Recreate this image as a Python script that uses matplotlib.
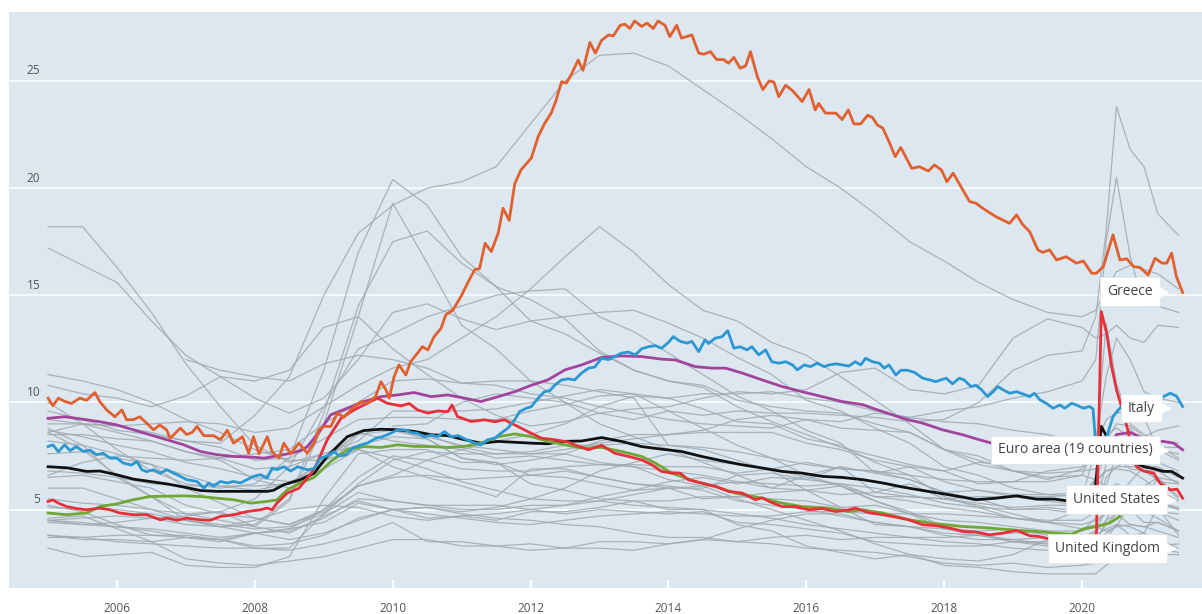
import numpy as np
import matplotlib
matplotlib.use("Agg")
import matplotlib.pyplot as plt
from matplotlib import transforms

plt.rcParams['font.family'] = ['Open Sans', 'DejaVu Sans']

# ---------------- highlighted series (year, unemployment rate %) ----------------
greece_year = [2005.00, 2005.07, 2005.15, 2005.24, 2005.34, 2005.46, 2005.56, 2005.68, 2005.75, 2005.85,
               2005.97, 2006.07, 2006.14, 2006.24, 2006.33, 2006.43, 2006.53, 2006.62, 2006.72, 2006.77,
               2006.92, 2007.01, 2007.09, 2007.16, 2007.26, 2007.40, 2007.50, 2007.60, 2007.69, 2007.82,
               2007.91, 2007.98, 2008.06, 2008.18, 2008.25, 2008.35, 2008.42, 2008.52, 2008.64, 2008.76,
               2008.86, 2008.93, 2009.00, 2009.10, 2009.20, 2009.29, 2009.39, 2009.54, 2009.63, 2009.75,
               2009.83, 2009.90, 2009.95, 2010.02, 2010.09, 2010.19, 2010.26, 2010.36, 2010.43, 2010.51,
               2010.60, 2010.70, 2010.77, 2010.87, 2010.99, 2011.11, 2011.19, 2011.26, 2011.34, 2011.43,
               2011.53, 2011.60, 2011.69, 2011.77, 2011.86, 2012.01, 2012.11, 2012.20, 2012.30, 2012.37,
               2012.45, 2012.52, 2012.59, 2012.69, 2012.76, 2012.86, 2012.94, 2013.03, 2013.13, 2013.20,
               2013.30, 2013.37, 2013.44, 2013.51, 2013.61, 2013.69, 2013.78, 2013.85, 2013.95, 2014.02,
               2014.12, 2014.19, 2014.34, 2014.44, 2014.51, 2014.61, 2014.70, 2014.80, 2014.87, 2014.95,
               2015.04, 2015.12, 2015.19, 2015.29, 2015.37, 2015.46, 2015.53, 2015.60, 2015.70, 2015.80,
               2015.94, 2016.04, 2016.13, 2016.18, 2016.28, 2016.43, 2016.52, 2016.61, 2016.69, 2016.79,
               2016.89, 2016.96, 2017.03, 2017.11, 2017.20, 2017.29, 2017.37, 2017.44, 2017.53, 2017.64,
               2017.77, 2017.86, 2017.96, 2018.04, 2018.13, 2018.22, 2018.37, 2018.46, 2018.56, 2018.75,
               2018.95, 2019.05, 2019.14, 2019.24, 2019.36, 2019.43, 2019.53, 2019.63, 2019.77, 2019.92,
               2020.02, 2020.14, 2020.21, 2020.31, 2020.45, 2020.55, 2020.65, 2020.75, 2020.84, 2020.96,
               2021.06, 2021.16, 2021.23, 2021.30, 2021.37, 2021.46]
greece_rate = [10.2, 9.85, 10.2, 10.05, 9.95, 10.2, 10.1, 10.46, 10.04, 9.65,
               9.33, 9.65, 9.19, 9.2, 9.33, 9.03, 8.72, 8.95, 8.72, 8.33,
               8.8, 8.5, 8.6, 8.88, 8.45, 8.45, 8.26, 8.7, 8.1, 8.4,
               7.63, 8.4, 7.6, 8.4, 7.7, 7.4, 8.1, 7.6, 8.1, 7.63,
               8.1, 8.72, 8.88, 8.88, 9.5, 9.3, 9.65, 10.04, 9.95, 10.27,
               10.97, 10.6, 10.2, 11.2, 11.75, 11.28, 11.9, 12.3, 12.6, 12.45,
               13.07, 13.45, 14.09, 14.3, 14.94, 15.72, 16.2, 16.25, 17.43, 17.04,
               17.9, 19.06, 18.5, 20.2, 20.85, 21.4, 22.4, 23.0, 23.5, 24.1,
               24.97, 24.9, 25.3, 25.98, 25.5, 26.8, 26.3, 26.9, 27.15, 27.1,
               27.6, 27.65, 27.45, 27.8, 27.55, 27.7, 27.45, 27.8, 27.6, 27.07,
               27.6, 27.0, 27.15, 26.3, 26.25, 26.37, 26.0, 26.0, 25.83, 26.1,
               25.6, 25.7, 26.37, 25.2, 24.6, 25.0, 24.95, 24.27, 24.8, 24.55,
               24.04, 24.6, 23.65, 23.95, 23.5, 23.5, 23.2, 23.65, 23.0, 23.0,
               23.4, 23.3, 22.95, 22.8, 22.17, 21.47, 21.9, 21.47, 20.92, 21.0,
               20.8, 21.08, 20.85, 20.3, 20.7, 20.2, 19.37, 19.3, 19.06, 18.67,
               18.36, 18.75, 18.3, 17.97, 17.12, 17.0, 17.12, 16.65, 16.8, 16.5,
               16.6, 16.03, 16.03, 16.34, 17.82, 16.65, 16.7, 16.34, 16.3, 15.95,
               16.73, 16.5, 16.5, 16.97, 15.87, 15.13]

italy_year = [2005.00, 2005.07, 2005.15, 2005.24, 2005.32, 2005.41, 2005.51, 2005.61, 2005.70, 2005.80,
              2005.90, 2006.00, 2006.09, 2006.21, 2006.29, 2006.36, 2006.43, 2006.53, 2006.63, 2006.72,
              2006.82, 2006.92, 2007.01, 2007.16, 2007.26, 2007.33, 2007.40, 2007.50, 2007.60, 2007.69,
              2007.79, 2007.89, 2007.98, 2008.08, 2008.18, 2008.25, 2008.32, 2008.42, 2008.52, 2008.62,
              2008.76, 2008.86, 2008.95, 2009.05, 2009.15, 2009.22, 2009.32, 2009.42, 2009.54, 2009.63,
              2009.76, 2009.85, 2009.97, 2010.07, 2010.17, 2010.26, 2010.36, 2010.46, 2010.56, 2010.65,
              2010.75, 2010.85, 2010.95, 2011.07, 2011.19, 2011.28, 2011.38, 2011.48, 2011.57, 2011.67,
              2011.77, 2011.84, 2011.94, 2012.01, 2012.11, 2012.20, 2012.28, 2012.35, 2012.45, 2012.55,
              2012.64, 2012.74, 2012.84, 2012.93, 2013.03, 2013.13, 2013.22, 2013.32, 2013.42, 2013.52,
              2013.61, 2013.71, 2013.81, 2013.90, 2014.00, 2014.07, 2014.17, 2014.27, 2014.34, 2014.44,
              2014.53, 2014.58, 2014.68, 2014.78, 2014.86, 2014.95, 2015.04, 2015.14, 2015.21, 2015.31,
              2015.41, 2015.50, 2015.60, 2015.70, 2015.80, 2015.87, 2015.97, 2016.06, 2016.16, 2016.26,
              2016.33, 2016.43, 2016.52, 2016.62, 2016.71, 2016.79, 2016.86, 2016.96, 2017.06, 2017.13,
              2017.20, 2017.30, 2017.37, 2017.47, 2017.57, 2017.69, 2017.79, 2017.88, 2017.95, 2018.03,
              2018.12, 2018.22, 2018.29, 2018.39, 2018.46, 2018.54, 2018.63, 2018.71, 2018.78, 2018.85,
              2018.95, 2019.05, 2019.14, 2019.24, 2019.31, 2019.39, 2019.48, 2019.58, 2019.68, 2019.75,
              2019.85, 2019.92, 2020.02, 2020.11, 2020.16, 2020.21, 2020.28, 2020.36, 2020.45, 2020.54,
              2020.62, 2020.70, 2020.80, 2020.90, 2021.00, 2021.10, 2021.18, 2021.28, 2021.37, 2021.46]
italy_rate = [7.94, 8.02, 7.7, 8.02, 7.75, 7.94, 7.71, 7.78, 7.56, 7.63,
              7.4, 7.4, 7.17, 7.08, 7.24, 6.86, 6.77, 6.86, 6.7, 6.86,
              6.7, 6.55, 6.4, 6.31, 6.0, 6.24, 6.1, 6.31, 6.24, 6.31,
              6.24, 6.4, 6.55, 6.63, 6.47, 6.94, 6.86, 7.0, 6.8, 7.0,
              6.86, 6.9, 7.4, 7.5, 7.71, 7.5, 7.55, 7.87, 8.02, 8.1,
              8.33, 8.4, 8.56, 8.72, 8.72, 8.6, 8.56, 8.4, 8.48, 8.4,
              8.64, 8.4, 8.45, 8.26, 8.1, 8.02, 8.26, 8.33, 8.56, 8.8,
              9.19, 9.57, 9.73, 9.8, 10.2, 10.5, 10.55, 10.8, 11.05, 11.1,
              11.05, 11.37, 11.6, 11.65, 12.06, 12.0, 12.14, 12.3, 12.35, 12.22,
              12.5, 12.6, 12.65, 12.53, 12.8, 13.07, 12.85, 12.77, 12.85, 12.37,
              12.92, 12.75, 13.0, 13.07, 13.35, 12.53, 12.6, 12.45, 12.6, 12.22,
              12.45, 11.9, 11.83, 11.9, 11.75, 11.52, 11.75, 11.67, 11.83, 11.67,
              11.75, 11.8, 11.75, 11.7, 11.9, 11.75, 12.06, 11.9, 11.83, 11.6,
              11.75, 11.28, 11.5, 11.5, 11.4, 11.13, 11.05, 10.97, 11.05, 11.13,
              10.87, 11.13, 11.05, 10.74, 10.8, 10.6, 10.27, 10.5, 10.74, 10.6,
              10.43, 10.5, 10.4, 10.27, 10.43, 10.12, 9.96, 9.73, 9.88, 9.73,
              9.96, 9.88, 9.73, 9.81, 9.7, 7.6, 8.0, 8.4, 9.34, 9.7,
              9.9, 9.8, 9.9, 9.6, 9.3, 10.1, 10.27, 10.43, 10.3, 9.81]

euro_year = [2005.00, 2005.24, 2005.56, 2005.75, 2006.00, 2006.24, 2006.48, 2006.72, 2006.97, 2007.21,
             2007.45, 2007.69, 2007.94, 2008.13, 2008.32, 2008.52, 2008.66, 2008.76, 2008.93, 2009.10,
             2009.34, 2009.58, 2009.83, 2010.07, 2010.31, 2010.56, 2010.80, 2011.04, 2011.28, 2011.53,
             2011.77, 2012.01, 2012.25, 2012.50, 2012.74, 2013.03, 2013.32, 2013.61, 2013.90, 2014.10,
             2014.39, 2014.63, 2014.83, 2015.07, 2015.36, 2015.65, 2015.94, 2016.23, 2016.52, 2016.81,
             2017.11, 2017.40, 2017.69, 2017.98, 2018.27, 2018.51, 2018.80, 2019.10, 2019.40, 2019.70,
             2020.00, 2020.20, 2020.35, 2020.50, 2020.70, 2020.90, 2021.05, 2021.18, 2021.33, 2021.46]
euro_rate = [9.26, 9.33, 9.19, 9.1, 8.95, 8.72, 8.49, 8.26, 8.02, 7.71,
             7.56, 7.48, 7.45, 7.4, 7.5, 7.63, 7.75, 7.94, 8.6, 9.42,
             9.73, 10.04, 10.27, 10.35, 10.46, 10.27, 10.35, 10.2, 10.04, 10.27,
             10.5, 10.8, 11.05, 11.52, 11.75, 12.1, 12.17, 12.14, 12.02, 11.98,
             11.67, 11.6, 11.6, 11.37, 11.05, 10.74, 10.5, 10.27, 10.04, 9.9,
             9.57, 9.26, 9.03, 8.72, 8.49, 8.26, 8.0, 7.8, 7.6, 7.5,
             7.4, 7.3, 7.6, 8.5, 8.6, 8.3, 8.2, 8.18, 8.1, 7.79]

oecd_year = [2005.00, 2005.27, 2005.56, 2005.75, 2006.00, 2006.24, 2006.48, 2006.72, 2006.97, 2007.21,
             2007.45, 2007.79, 2008.18, 2008.27, 2008.42, 2008.66, 2008.86, 2009.05, 2009.34, 2009.58,
             2009.83, 2010.07, 2010.31, 2010.56, 2010.80, 2011.04, 2011.28, 2011.53, 2011.77, 2012.01,
             2012.25, 2012.45, 2012.74, 2013.03, 2013.32, 2013.61, 2013.90, 2014.19, 2014.48, 2014.77,
             2015.07, 2015.36, 2015.65, 2015.94, 2016.23, 2016.52, 2016.81, 2017.11, 2017.40, 2017.69,
             2017.98, 2018.27, 2018.46, 2018.75, 2019.05, 2019.34, 2019.60, 2019.80, 2020.00, 2020.18,
             2020.28, 2020.36, 2020.45, 2020.60, 2020.75, 2020.90, 2021.05, 2021.18, 2021.30, 2021.46]
oecd_rate = [7.0, 6.95, 6.78, 6.8, 6.62, 6.42, 6.31, 6.2, 6.05, 5.89,
             5.85, 5.85, 5.85, 5.9, 6.16, 6.39, 6.7, 7.48, 8.4, 8.69,
             8.75, 8.72, 8.65, 8.49, 8.45, 8.26, 8.1, 8.18, 8.14, 8.1,
             8.07, 8.18, 8.2, 8.36, 8.18, 7.94, 7.82, 7.71, 7.48, 7.28,
             7.09, 6.94, 6.78, 6.7, 6.55, 6.5, 6.4, 6.24, 6.05, 5.89,
             5.74, 5.58, 5.46, 5.53, 5.64, 5.49, 5.49, 5.4, 5.3, 5.6,
             8.88, 8.4, 7.9, 7.5, 7.2, 7.0, 6.9, 6.78, 6.78, 6.47]

us_year = [2005.00, 2005.07, 2005.15, 2005.27, 2005.41, 2005.56, 2005.75, 2005.90, 2006.04, 2006.24,
           2006.43, 2006.63, 2006.72, 2006.87, 2007.01, 2007.21, 2007.35, 2007.50, 2007.69, 2007.89,
           2008.08, 2008.18, 2008.25, 2008.32, 2008.47, 2008.64, 2008.86, 2009.05, 2009.25, 2009.44,
           2009.63, 2009.78, 2009.92, 2010.12, 2010.24, 2010.36, 2010.51, 2010.65, 2010.80, 2010.86,
           2010.94, 2011.14, 2011.33, 2011.48, 2011.62, 2011.77, 2011.96, 2012.16, 2012.35, 2012.55,
           2012.64, 2012.84, 2013.03, 2013.22, 2013.42, 2013.61, 2013.76, 2013.90, 2014.05, 2014.17,
           2014.29, 2014.48, 2014.68, 2014.87, 2015.07, 2015.26, 2015.36, 2015.46, 2015.65, 2015.84,
           2016.04, 2016.23, 2016.43, 2016.62, 2016.71, 2016.91, 2017.11, 2017.30, 2017.49, 2017.69,
           2017.88, 2018.08, 2018.27, 2018.46, 2018.66, 2018.85, 2019.05, 2019.24, 2019.36, 2019.50,
           2019.70, 2019.90, 2020.10, 2020.21, 2020.28, 2020.36, 2020.43, 2020.50, 2020.60, 2020.69,
           2020.79, 2020.89, 2021.04, 2021.13, 2021.28, 2021.38, 2021.46]
us_rate = [5.38, 5.45, 5.3, 5.14, 5.05, 4.99, 5.07, 4.99, 4.84, 4.76,
           4.76, 4.52, 4.6, 4.5, 4.6, 4.52, 4.5, 4.68, 4.76, 4.91,
           4.99, 5.07, 4.99, 5.3, 5.77, 6.0, 6.86, 8.26, 9.26, 9.65,
           9.96, 10.2, 9.96, 9.84, 9.95, 9.65, 9.5, 9.6, 9.57, 9.88,
           9.34, 9.11, 9.19, 9.1, 9.19, 8.95, 8.64, 8.33, 8.26, 8.15,
           8.02, 7.79, 8.0, 7.63, 7.48, 7.32, 7.09, 6.78, 6.7, 6.7,
           6.39, 6.24, 6.08, 5.85, 5.77, 5.46, 5.55, 5.38, 5.14, 5.14,
           4.99, 5.05, 4.91, 4.99, 5.07, 4.85, 4.76, 4.65, 4.52, 4.29,
           4.25, 4.14, 3.98, 3.95, 3.82, 3.9, 4.03, 3.78, 3.75, 3.65,
           3.6, 3.55, 3.5, 3.9, 14.24, 13.2, 11.67, 10.6, 9.5, 8.4,
           7.0, 6.8, 6.7, 6.24, 5.92, 5.95, 5.53]

uk_year = [2005.00, 2005.27, 2005.56, 2005.75, 2006.00, 2006.24, 2006.48, 2006.97, 2007.21, 2007.45,
           2007.69, 2007.94, 2008.18, 2008.32, 2008.47, 2008.66, 2008.86, 2009.10, 2009.34, 2009.58,
           2009.83, 2010.07, 2010.31, 2010.56, 2010.80, 2011.04, 2011.28, 2011.53, 2011.77, 2012.01,
           2012.25, 2012.50, 2012.74, 2013.03, 2013.32, 2013.61, 2013.81, 2014.05, 2014.39, 2014.68,
           2014.97, 2015.36, 2015.65, 2015.94, 2016.33, 2016.62, 2016.81, 2017.11, 2017.49, 2017.88,
           2018.27, 2018.66, 2019.05, 2019.34, 2019.60, 2019.85, 2020.02, 2020.21, 2020.40, 2020.55]
uk_rate = [4.84, 4.76, 4.84, 5.14, 5.27, 5.46, 5.61, 5.64, 5.61, 5.53,
           5.46, 5.3, 5.38, 5.45, 5.92, 6.24, 6.5, 7.24, 7.79, 7.94,
           7.9, 8.02, 7.95, 7.94, 7.9, 7.95, 8.1, 8.4, 8.53, 8.4,
           8.18, 8.02, 7.87, 7.9, 7.71, 7.48, 7.17, 6.7, 6.31, 6.08,
           5.77, 5.53, 5.3, 5.14, 5.07, 4.91, 4.99, 4.84, 4.52, 4.34,
           4.21, 4.14, 4.03, 3.98, 3.9, 3.85, 4.1, 4.21, 4.37, 4.68]

# ---------------- other OECD countries (grey) on a common time grid ----------------
grey_year = [2005.0, 2005.5, 2006.0, 2006.5, 2007.0, 2007.5, 2008.0, 2008.5, 2009.0, 2009.5,
             2010.0, 2010.5, 2011.0, 2011.5, 2012.0, 2012.5, 2013.0, 2013.5, 2014.0, 2014.5,
             2015.0, 2015.5, 2016.0, 2016.5, 2017.0, 2017.5, 2018.0, 2018.5, 2019.0, 2019.5,
             2020.0, 2020.2, 2020.35, 2020.5, 2020.7, 2020.9, 2021.1, 2021.4]
spain = [9.6, 9.2, 8.7, 8.5, 8.2, 8.1, 9.4, 11.2, 15.0, 17.9, 19.2, 20.0, 20.3, 21.0, 23.0, 25.0, 26.2, 26.3, 25.7, 24.6,
         23.5, 22.3, 21.0, 20.0, 18.8, 17.5, 16.6, 15.6, 14.8, 14.2, 14.0, 14.3, 15.3, 16.1, 16.4, 16.2, 16.0, 15.3]
poland = [18.2, 18.2, 16.3, 14.2, 11.8, 9.8, 8.0, 7.2, 7.6, 8.2, 9.6, 9.6, 9.6, 9.7, 10.0, 10.3, 10.6, 10.4, 9.6, 8.8,
          8.0, 7.4, 6.6, 6.1, 5.4, 4.8, 4.1, 3.8, 3.5, 3.3, 3.1, 3.1, 3.2, 3.2, 3.3, 3.3, 3.3, 3.4]
slovakia = [17.2, 16.4, 15.6, 13.8, 12.2, 11.2, 10.2, 9.5, 10.2, 12.0, 14.2, 14.6, 13.9, 13.4, 13.8, 14.0, 14.2, 14.3, 13.7, 13.0,
            12.1, 11.3, 10.1, 9.6, 8.8, 8.1, 7.0, 6.6, 6.0, 5.7, 5.8, 6.4, 6.8, 7.0, 7.0, 7.0, 7.2, 6.8]
germany = [11.3, 11.0, 10.6, 10.0, 9.2, 8.6, 7.8, 7.3, 7.3, 7.8, 7.4, 6.9, 6.3, 5.9, 5.5, 5.4, 5.4, 5.2, 5.1, 5.0,
           4.8, 4.6, 4.3, 4.1, 3.9, 3.7, 3.5, 3.4, 3.2, 3.1, 3.2, 3.4, 3.9, 4.2, 4.3, 4.2, 4.0, 3.7]
turkey = [10.8, 10.4, 10.2, 9.8, 10.3, 11.2, 11.0, 11.5, 13.5, 14.0, 12.5, 11.3, 10.2, 9.4, 8.9, 9.1, 9.5, 9.7, 9.8, 10.2,
          10.5, 10.4, 10.6, 11.4, 11.6, 10.6, 10.4, 10.8, 13.0, 13.9, 13.5, 13.0, 13.2, 13.6, 13.0, 12.8, 13.6, 13.5]
france = [9.0, 9.0, 8.9, 8.6, 8.2, 7.9, 7.3, 7.4, 8.3, 9.2, 9.3, 9.3, 9.2, 9.2, 9.6, 9.9, 10.3, 10.4, 10.2, 10.4,
          10.4, 10.5, 10.2, 10.0, 9.6, 9.3, 9.1, 9.0, 8.7, 8.5, 8.1, 7.6, 7.2, 7.2, 8.8, 8.0, 7.9, 7.9]
portugal = [8.6, 9.0, 8.9, 9.0, 9.1, 9.0, 8.6, 8.8, 9.8, 10.8, 11.6, 12.0, 13.0, 14.0, 15.3, 16.8, 18.2, 17.0, 15.5, 14.3,
            13.8, 12.8, 12.2, 11.2, 10.1, 9.0, 7.8, 7.1, 6.8, 6.5, 6.6, 6.4, 6.1, 7.6, 7.6, 7.1, 6.8, 6.7]
ireland = [4.4, 4.3, 4.4, 4.6, 4.7, 4.9, 5.5, 7.0, 9.8, 12.5, 13.2, 14.0, 14.5, 15.0, 15.2, 15.3, 14.0, 13.3, 12.3, 11.3,
           10.3, 9.6, 8.7, 8.1, 6.7, 6.4, 5.8, 5.5, 5.0, 5.0, 4.8, 4.8, 5.1, 5.5, 6.3, 7.0, 6.3, 6.2]
latvia = [10.0, 9.0, 7.8, 6.8, 6.2, 6.0, 6.2, 7.4, 11.5, 17.0, 20.4, 19.2, 16.8, 15.4, 14.8, 13.9, 12.4, 11.5, 11.0, 10.8,
          10.1, 9.8, 9.6, 9.5, 9.0, 8.6, 7.8, 7.3, 6.8, 6.4, 6.9, 7.5, 8.5, 8.8, 8.4, 8.0, 8.0, 7.4]
estonia = [8.6, 7.8, 6.6, 5.6, 4.8, 4.5, 4.2, 5.4, 9.0, 14.0, 19.3, 16.5, 13.6, 12.5, 11.0, 10.0, 9.0, 8.4, 7.8, 7.2,
           6.6, 6.0, 6.6, 7.0, 5.8, 6.2, 5.5, 5.2, 4.8, 4.4, 5.0, 6.5, 7.5, 7.8, 7.2, 6.8, 6.8, 6.2]
lithuania = [8.8, 8.0, 6.5, 5.6, 4.5, 4.2, 4.3, 5.5, 9.5, 14.5, 17.5, 18.0, 16.5, 15.4, 13.8, 13.2, 12.3, 11.5, 11.0, 10.7,
             9.8, 9.1, 8.5, 7.9, 7.5, 7.1, 6.8, 6.2, 6.3, 6.3, 6.6, 8.0, 9.2, 9.5, 9.6, 9.3, 7.8, 7.3]
belgium = [8.5, 8.5, 8.3, 8.2, 7.7, 7.4, 6.9, 7.0, 7.6, 8.0, 8.4, 8.3, 7.4, 7.1, 7.3, 7.6, 8.2, 8.5, 8.5, 8.6,
           8.6, 8.6, 8.1, 7.8, 7.3, 7.0, 6.3, 5.9, 5.6, 5.4, 5.2, 5.0, 5.3, 5.3, 5.8, 6.1, 6.5, 6.3]
finland = [8.7, 8.4, 8.0, 7.7, 7.2, 6.9, 6.5, 6.3, 6.9, 8.5, 8.7, 8.4, 8.0, 7.8, 7.6, 7.8, 8.1, 8.3, 8.5, 8.7,
           9.2, 9.4, 9.2, 8.8, 8.7, 8.6, 7.8, 7.5, 6.8, 6.7, 6.8, 6.9, 7.9, 7.8, 7.9, 7.8, 7.8, 7.6]
sweden = [7.6, 7.7, 7.4, 7.1, 6.6, 6.1, 6.1, 6.2, 7.3, 8.6, 8.8, 8.5, 7.9, 7.6, 7.7, 8.0, 8.0, 8.1, 8.0, 7.9,
          7.7, 7.4, 7.1, 6.9, 6.8, 6.6, 6.4, 6.3, 6.3, 6.8, 7.0, 7.5, 8.2, 9.0, 8.9, 8.4, 8.7, 8.9]
hungary = [6.6, 7.2, 7.5, 7.4, 7.3, 7.4, 7.6, 7.8, 9.0, 10.0, 11.0, 11.1, 10.9, 11.0, 11.0, 10.8, 10.5, 10.2, 8.0, 7.8,
           7.3, 6.8, 5.9, 5.1, 4.3, 4.2, 3.8, 3.6, 3.6, 3.4, 3.4, 3.6, 4.3, 4.8, 4.3, 4.2, 4.4, 4.0]
czechia = [8.2, 8.0, 7.6, 7.1, 6.0, 5.3, 4.6, 4.3, 5.0, 6.5, 7.5, 7.3, 6.9, 6.8, 6.8, 7.0, 7.1, 7.0, 6.4, 6.1,
           5.5, 5.0, 4.5, 4.0, 3.4, 2.9, 2.4, 2.3, 2.1, 2.0, 2.0, 2.0, 2.4, 2.7, 2.9, 3.0, 3.2, 3.0]
denmark = [5.2, 4.9, 4.3, 3.8, 3.8, 3.6, 3.2, 3.2, 4.8, 6.2, 7.3, 7.7, 7.6, 7.6, 7.6, 7.6, 7.2, 7.0, 6.8, 6.6,
           6.3, 6.2, 6.1, 6.2, 6.0, 5.7, 5.3, 5.1, 5.0, 5.1, 4.9, 5.0, 5.8, 6.2, 5.9, 5.6, 5.5, 5.0]
netherlands = [6.0, 6.0, 5.5, 5.0, 4.5, 4.2, 3.9, 3.6, 3.9, 4.5, 5.0, 5.1, 4.9, 5.1, 5.5, 6.0, 6.8, 7.2, 7.6, 7.3,
               7.1, 6.9, 6.5, 6.1, 5.4, 4.9, 4.2, 3.9, 3.5, 3.4, 3.0, 3.0, 3.6, 4.3, 4.2, 3.9, 3.6, 3.2]
austria = [5.5, 5.3, 5.2, 5.0, 4.8, 4.9, 4.2, 3.9, 4.7, 5.4, 5.0, 4.6, 4.7, 4.5, 4.9, 4.9, 5.1, 5.4, 5.4, 5.6,
           5.6, 5.8, 5.9, 6.1, 5.6, 5.4, 5.1, 4.9, 4.6, 4.5, 4.5, 4.9, 5.8, 5.5, 5.4, 5.4, 6.5, 5.6]
japan = [4.5, 4.3, 4.2, 4.1, 3.9, 3.7, 3.9, 4.1, 4.4, 5.3, 5.0, 5.1, 4.8, 4.6, 4.5, 4.3, 4.2, 3.9, 3.7, 3.7,
         3.5, 3.4, 3.2, 3.1, 3.0, 2.8, 2.5, 2.4, 2.5, 2.3, 2.4, 2.5, 2.6, 2.8, 3.0, 3.0, 2.9, 2.9]
korea = [3.7, 3.7, 3.5, 3.4, 3.3, 3.2, 3.2, 3.1, 3.4, 3.8, 4.4, 3.5, 3.5, 3.3, 3.4, 3.2, 3.2, 3.1, 3.4, 3.6,
         3.5, 3.7, 3.8, 3.6, 3.7, 3.7, 3.7, 3.8, 3.9, 4.0, 3.7, 3.8, 4.1, 4.3, 3.8, 3.9, 5.1, 3.8]
norway = [4.6, 4.7, 4.1, 3.5, 2.7, 2.5, 2.4, 2.6, 2.8, 3.2, 3.6, 3.6, 3.3, 3.3, 3.1, 3.2, 3.5, 3.5, 3.4, 3.6,
          4.1, 4.5, 4.8, 4.8, 4.4, 4.2, 3.9, 3.8, 3.6, 3.7, 3.7, 4.0, 5.0, 4.8, 4.9, 4.8, 4.9, 4.8]
iceland = [3.2, 2.8, 2.9, 3.0, 2.4, 2.3, 2.3, 2.8, 5.5, 7.6, 7.8, 7.8, 7.2, 7.2, 6.2, 5.9, 5.5, 5.4, 5.0, 5.0,
           4.3, 4.0, 3.3, 3.0, 2.7, 2.9, 2.7, 2.6, 2.9, 3.6, 4.0, 4.6, 6.5, 7.0, 7.3, 7.0, 7.0, 6.5]
israel = [9.2, 9.0, 8.6, 8.2, 7.7, 7.3, 6.4, 6.0, 6.9, 7.8, 7.0, 6.5, 6.1, 5.6, 6.9, 6.9, 6.5, 6.2, 6.1, 5.9,
          5.4, 5.2, 5.0, 4.7, 4.4, 4.2, 4.1, 4.0, 4.1, 3.8, 3.6, 4.0, 4.5, 4.8, 4.8, 5.0, 5.3, 5.0]
canada = [6.8, 6.7, 6.5, 6.2, 6.1, 6.1, 5.9, 6.2, 7.2, 8.6, 8.2, 8.0, 7.8, 7.4, 7.5, 7.3, 7.1, 7.1, 7.0, 7.0,
          6.7, 6.9, 7.2, 6.9, 6.8, 6.4, 5.8, 5.9, 5.7, 5.7, 5.6, 7.8, 13.7, 10.9, 9.0, 8.5, 8.2, 8.1]
australia = [5.1, 5.0, 5.0, 4.8, 4.5, 4.3, 4.1, 4.2, 4.8, 5.8, 5.4, 5.2, 5.0, 5.0, 5.2, 5.2, 5.4, 5.7, 6.0, 6.1,
             6.3, 6.0, 5.9, 5.7, 5.8, 5.6, 5.5, 5.3, 5.1, 5.2, 5.2, 5.2, 7.1, 7.4, 6.9, 6.8, 6.4, 5.5]
new_zealand = [3.8, 3.7, 3.8, 3.8, 3.7, 3.6, 3.9, 4.1, 5.0, 6.1, 6.5, 6.6, 6.4, 6.5, 6.6, 6.8, 6.5, 6.2, 6.0, 5.5,
               5.6, 5.5, 5.4, 5.1, 5.2, 4.8, 4.5, 4.4, 4.2, 4.0, 4.0, 4.2, 4.0, 4.2, 5.3, 4.9, 4.6, 4.0]
mexico = [3.8, 3.6, 3.6, 3.5, 3.7, 3.5, 3.9, 4.0, 4.6, 5.5, 5.4, 5.2, 5.2, 5.2, 5.0, 4.8, 5.0, 4.9, 4.8, 4.9,
          4.4, 4.3, 4.1, 3.9, 3.5, 3.4, 3.3, 3.3, 3.5, 3.5, 3.6, 3.4, 4.5, 5.4, 5.0, 4.4, 4.4, 4.0]
switzerland = [4.5, 4.4, 4.2, 4.0, 3.7, 3.6, 3.3, 3.4, 3.8, 4.6, 5.0, 4.8, 4.6, 4.4, 4.3, 4.5, 4.7, 4.8, 4.9, 4.8,
               4.7, 4.7, 4.9, 4.9, 4.8, 4.8, 4.8, 4.7, 4.6, 4.4, 4.3, 4.5, 4.8, 5.0, 5.0, 5.2, 5.3, 5.1]
slovenia = [6.5, 6.6, 6.3, 6.0, 5.2, 4.8, 4.6, 4.3, 4.9, 6.1, 6.6, 7.3, 7.8, 8.2, 8.5, 9.0, 9.8, 10.3, 10.2, 9.7,
            9.1, 9.0, 8.3, 8.0, 7.2, 6.6, 5.6, 5.1, 4.6, 4.4, 4.1, 4.3, 5.0, 5.0, 5.0, 4.9, 4.9, 4.5]
luxembourg = [4.5, 4.6, 4.7, 4.6, 4.3, 4.2, 4.5, 5.0, 5.2, 5.1, 4.7, 4.5, 4.7, 4.8, 5.0, 5.2, 5.6, 5.9, 6.0, 6.0,
              6.6, 6.7, 6.4, 6.2, 5.6, 5.6, 5.5, 5.6, 5.6, 5.6, 5.7, 6.3, 6.8, 6.9, 6.8, 6.4, 5.9, 5.4]
chile = [None] * 10 + [8.7, 8.3, 7.4, 7.2, 6.6, 6.5, 6.2, 5.9, 6.3, 6.5,
                       6.2, 6.5, 6.4, 7.0, 6.7, 7.0, 6.8, 7.2, 7.1, 7.3, 7.4, 8.2, 11.2, 13.0, 12.0, 10.5, 10.2, 10.0]
colombia = [None] * 4 + [12.0, 11.5, 11.2, 11.0, 11.8, 12.2, 12.0, 11.6, 10.9, 10.8, 10.4, 10.2, 9.8, 9.5, 9.2, 9.0,
                         8.9, 8.8, 9.2, 9.1, 9.5, 9.3, 9.6, 9.8, 10.2, 10.5, 11.0, 12.0, 17.5, 20.5, 16.8, 14.5, 14.5, 14.2]
costa_rica = [None] * 10 + [8.9, 9.0, 10.0, 10.4, 10.2, 10.0, 9.5, 9.2, 9.6, 9.4,
                            9.6, 9.5, 9.5, 9.4, 9.3, 9.1, 9.2, 10.0, 11.5, 12.2, 12.4, 14.0, 18.0, 23.8, 21.8, 21.0, 18.8, 17.8]

grey_series = [spain, poland, slovakia, germany, turkey, france, portugal, ireland, latvia, estonia,
               lithuania, belgium, finland, sweden, hungary, czechia, denmark, netherlands, austria, japan,
               korea, norway, iceland, israel, canada, australia, new_zealand, mexico, switzerland, slovenia,
               luxembourg, chile, colombia, costa_rica]

x_ticks = [2006, 2008, 2010, 2012, 2014, 2016, 2018, 2020]
y_ticks = [5, 10, 15, 20, 25]

# callout labels: (text, year of right edge of text, value of its centre)
labels = ["Greece", "Italy", "Euro area (19 countries)", "United States", "United Kingdom"]
label_year = [2021.03, 2021.06, 2021.03, 2021.13, 2021.13]
label_value = [15.16, 9.74, 7.78, 5.45, 3.2]

# ---------------- figure ----------------
W, H = 1202, 614
fig = plt.figure(figsize=(W / 100, H / 100), dpi=100)
fig.patch.set_facecolor("white")
ax = fig.add_axes([9 / W, (H - 588) / H, (W - 9) / W, (588 - 12) / H])
ax.set_facecolor("#dce7ef")
for s in ax.spines.values():
    s.set_visible(False)

ax.set_xlim(2004.433, 2021.741)
ax.set_ylim(1.34, 28.22)

# grid
ax.set_yticks(y_ticks)
ax.yaxis.grid(True, color="white", linewidth=1.1)
ax.tick_params(axis="y", length=0, labelleft=False)
ax.set_axisbelow(True)

ax.set_xticks(x_ticks)
ax.set_xticklabels([str(t) for t in x_ticks])
ax.tick_params(axis="x", direction="in", length=6, width=1.6, color="white",
               labelsize=8.5, labelcolor="#555555", pad=10)

# y labels drawn inside the plot, above gridlines
ylab_tr = transforms.offset_copy(transforms.blended_transform_factory(ax.transAxes, ax.transData),
                                 fig=fig, x=0, y=10, units="dots")
for v in y_ticks:
    ax.text(0.026, v, str(v), transform=ylab_tr, ha="right", va="center",
            fontsize=8.5, color="#555555")

# grey lines
for ser in grey_series:
    ax.plot(grey_year, np.array(ser, dtype=float), color="#9ea9b1", lw=0.9, alpha=0.85, zorder=2)

# highlighted lines
ax.plot(euro_year, euro_rate, color="#a3449c", lw=2.0, zorder=4)
ax.plot(oecd_year, oecd_rate, color="#111111", lw=2.0, zorder=4)
ax.plot(uk_year, uk_rate, color="#6fa834", lw=2.0, zorder=5)
ax.plot(us_year, us_rate, color="#e8303a", lw=2.0, zorder=5)
ax.plot(italy_year, italy_rate, color="#2b98d4", lw=2.0, zorder=6)
ax.plot(greece_year, greece_rate, color="#e2602f", lw=2.0, zorder=7)

# callouts
for txt, lx, ly in zip(labels, label_year, label_value):
    ax.text(lx, ly, txt, ha="right", va="center", fontsize=10, color="#444444", zorder=10,
            bbox=dict(boxstyle="square,pad=0.5", fc="white", ec="#e4e4e4", lw=0.6))
    tri_tr = transforms.offset_copy(ax.transData, fig=fig, x=10, y=0, units="dots")
    ax.plot([lx], [ly], marker=">", ms=7, color="white", mec="white", transform=tri_tr,
            zorder=11, clip_on=False)

fig.savefig("out.png", dpi=100, facecolor="white")
